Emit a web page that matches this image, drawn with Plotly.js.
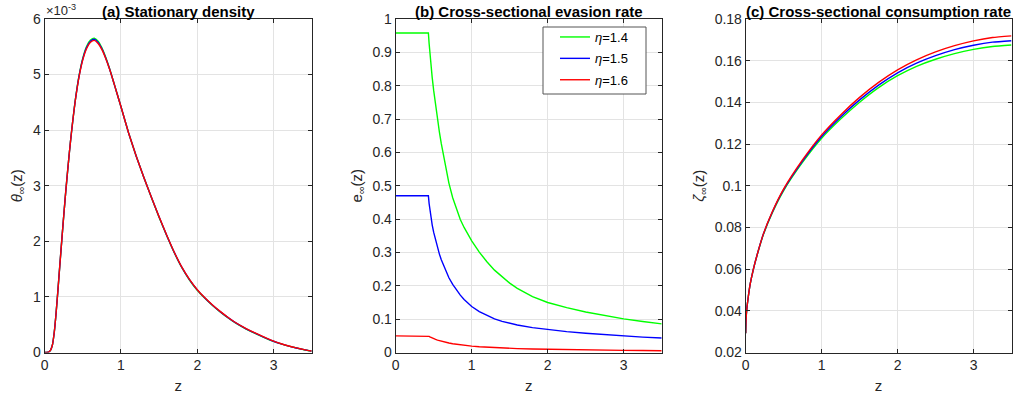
<!DOCTYPE html>
<html>
<head>
<meta charset="utf-8">
<script src="https://cdn.plot.ly/plotly-3.0.1.min.js"></script>
<style>html,body{margin:0;padding:0;background:#fff;}#chart{width:1015px;height:400px;}</style>
</head>
<body>
<div id="chart"></div>
<script>
// ---------- data ----------
const seriesNames = ['<i>η</i>=1.4', '<i>η</i>=1.5', '<i>η</i>=1.6'];
const seriesColors = ['#00ff00', '#0000ff', '#ff0000'];

// (a) stationary density, values in units of 1e-3
const zA = [0, 0.025, 0.05, 0.075, 0.1, 0.125, 0.15, 0.175, 0.2, 0.225, 0.25, 0.275, 0.3, 0.325, 0.35, 0.375, 0.4, 0.45, 0.5, 0.55, 0.6, 0.65, 0.7, 0.75, 0.8, 0.85, 0.9, 0.95, 1.0, 1.1, 1.2, 1.3, 1.4, 1.5, 1.6, 1.7, 1.8, 1.9, 2.0, 2.1, 2.2, 2.3, 2.4, 2.5, 2.6, 2.7, 2.8, 2.9, 3.0, 3.1, 3.2, 3.3, 3.4, 3.5];
const thetaR = [0, 0, 0.005, 0.04, 0.13, 0.36, 0.72, 1.15, 1.60, 2.04, 2.47, 2.88, 3.26, 3.62, 3.95, 4.25, 4.52, 4.96, 5.27, 5.47, 5.58, 5.615, 5.56, 5.45, 5.29, 5.10, 4.88, 4.65, 4.42, 3.95, 3.53, 3.15, 2.79, 2.44, 2.11, 1.80, 1.53, 1.31, 1.13, 0.985, 0.855, 0.74, 0.635, 0.54, 0.46, 0.39, 0.325, 0.262, 0.205, 0.158, 0.117, 0.082, 0.052, 0.026];
const thetaB = [0, 0, 0.005, 0.04, 0.13, 0.36, 0.72, 1.15, 1.60, 2.04, 2.47, 2.88, 3.26, 3.62, 3.95, 4.25, 4.525, 4.97, 5.285, 5.49, 5.60, 5.635, 5.58, 5.465, 5.30, 5.105, 4.88, 4.65, 4.42, 3.95, 3.53, 3.15, 2.79, 2.436, 2.106, 1.796, 1.526, 1.306, 1.126, 0.981, 0.851, 0.736, 0.631, 0.536, 0.456, 0.386, 0.321, 0.259, 0.202, 0.156, 0.116, 0.081, 0.051, 0.025];
const thetaG = [0, 0, 0.005, 0.04, 0.13, 0.36, 0.72, 1.15, 1.60, 2.04, 2.47, 2.88, 3.26, 3.62, 3.95, 4.25, 4.53, 4.98, 5.30, 5.51, 5.62, 5.655, 5.60, 5.48, 5.31, 5.11, 4.88, 4.65, 4.42, 3.95, 3.53, 3.15, 2.785, 2.43, 2.10, 1.79, 1.52, 1.30, 1.12, 0.975, 0.845, 0.73, 0.626, 0.532, 0.452, 0.382, 0.317, 0.256, 0.2, 0.154, 0.114, 0.08, 0.05, 0.024];

// (b) cross-sectional evasion rate
const zB = [0, 0.43, 0.44, 0.45, 0.46, 0.47, 0.48, 0.5, 0.525, 0.55, 0.575, 0.6, 0.65, 0.7, 0.75, 0.8, 0.85, 0.9, 0.95, 1.0, 1.1, 1.2, 1.3, 1.4, 1.5, 1.6, 1.8, 2.0, 2.25, 2.5, 2.75, 3.0, 3.25, 3.5];
const evaG = [0.958, 0.958, 0.926, 0.897, 0.871, 0.847, 0.825, 0.785, 0.740, 0.699, 0.661, 0.626, 0.562, 0.508, 0.464, 0.428, 0.399, 0.375, 0.354, 0.335, 0.301, 0.272, 0.247, 0.226, 0.208, 0.1925, 0.1675, 0.150, 0.1345, 0.1215, 0.1105, 0.101, 0.093, 0.0858];
const evaB = [0.47, 0.47, 0.446, 0.427, 0.41, 0.396, 0.383, 0.36, 0.335, 0.314, 0.295, 0.278, 0.248, 0.224, 0.204, 0.187, 0.172, 0.159, 0.148, 0.138, 0.1225, 0.1105, 0.101, 0.0935, 0.0875, 0.0825, 0.0745, 0.0685, 0.0625, 0.0575, 0.0532, 0.0495, 0.0462, 0.0433];
const evaR = [0.05, 0.05, 0.0485, 0.0471, 0.0458, 0.0446, 0.0435, 0.0415, 0.0393, 0.0373, 0.0355, 0.0338, 0.0309, 0.0285, 0.0264, 0.0246, 0.023, 0.0216, 0.0203, 0.0192, 0.0173, 0.0157, 0.0144, 0.0133, 0.0124, 0.0116, 0.0103, 0.0093, 0.0083, 0.0075, 0.0068, 0.0063, 0.0058, 0.0054];

// (c) cross-sectional consumption rate
const zC = [0, 0.005, 0.015, 0.035, 0.06, 0.1, 0.15, 0.232, 0.35, 0.5, 0.75, 1.0, 1.25, 1.5, 1.75, 2.0, 2.25, 2.5, 2.75, 3.0, 3.25, 3.5];
const consR = [0.0292, 0.036, 0.041, 0.047, 0.053, 0.0598, 0.0668, 0.0768, 0.0875, 0.0985, 0.1125, 0.1244, 0.1340, 0.1424, 0.1496, 0.1556, 0.1604, 0.1642, 0.1672, 0.1695, 0.1711, 0.1719];
const consB = [0.0292, 0.036, 0.041, 0.047, 0.053, 0.0598, 0.0668, 0.0767, 0.0873, 0.0981, 0.1119, 0.1236, 0.1330, 0.1412, 0.1483, 0.1542, 0.1588, 0.1624, 0.1653, 0.1674, 0.1689, 0.1696];
const consG = [0.0292, 0.036, 0.041, 0.047, 0.053, 0.0598, 0.0667, 0.0765, 0.0870, 0.0977, 0.1113, 0.1228, 0.1320, 0.1401, 0.1471, 0.1528, 0.1573, 0.1607, 0.1634, 0.1654, 0.1668, 0.1675];

const xTicks = [0, 1, 2, 3];
const yTicksA = [0, 1, 2, 3, 4, 5, 6];
const yTicksB = [0, 0.1, 0.2, 0.3, 0.4, 0.5, 0.6, 0.7, 0.8, 0.9, 1];
const yTickTextB = ['0', '0.1', '0.2', '0.3', '0.4', '0.5', '0.6', '0.7', '0.8', '0.9', '1'];
const yTicksC = [0.02, 0.04, 0.06, 0.08, 0.1, 0.12, 0.14, 0.16, 0.18];
const yTickTextC = ['0.02', '0.04', '0.06', '0.08', '0.1', '0.12', '0.14', '0.16', '0.18'];
const titles = ['(a) Stationary density', '(b) Cross-sectional evasion rate', '(c) Cross-sectional consumption rate'];
const yTitles = ['<i>θ</i><sub>∞</sub>(z)', 'e<sub>∞</sub>(z)', '<i>ζ</i><sub>∞</sub>(z)'];

// ---------- layout helpers ----------
const W = 1015, H = 400;
const px = v => v / W;
const py = v => 1 - v / H;
const panels = [[44.7, 311.7], [395.7, 661.7], [745.7, 1011.5]];
const plotTop = 19, plotBot = 352.5;
const FONT = 'Liberation Sans, Arial, Helvetica, sans-serif';
const axColor = '#262626';
const gridColor = '#e3e3e3';

function xaxis(i) {
  return {
    domain: [px(panels[i][0]), px(panels[i][1])],
    anchor: 'y' + (i ? i + 1 : ''),
    range: [0, 3.5], tickvals: xTicks, ticks: 'inside', ticklen: 4, tickcolor: axColor,
    showline: true, linecolor: axColor, linewidth: 1, mirror: 'ticks',
    showgrid: true, gridcolor: gridColor, gridwidth: 1, zeroline: false,
    tickfont: {family: FONT, size: 14, color: axColor},
    title: {text: 'z', font: {family: FONT, size: 15, color: axColor}, standoff: 8},
    fixedrange: true
  };
}
function yaxis(i, range, vals, text) {
  const a = {
    domain: [py(plotBot), py(plotTop)],
    anchor: 'x' + (i ? i + 1 : ''),
    range: range, tickvals: vals, ticks: 'inside', ticklen: 4, tickcolor: axColor,
    showline: true, linecolor: axColor, linewidth: 1, mirror: 'ticks',
    showgrid: true, gridcolor: gridColor, gridwidth: 1, zeroline: false,
    tickfont: {family: FONT, size: 14, color: axColor},
    title: {text: yTitles[i], font: {family: FONT, size: 15, color: axColor}, standoff: 6},
    fixedrange: true
  };
  if (text) a.ticktext = text;
  return a;
}

const data = [];
const sets = [[zA, [thetaG, thetaB, thetaR]], [zB, [evaG, evaB, evaR]], [zC, [consG, consB, consR]]];
sets.forEach((s, i) => {
  s[1].forEach((ys, k) => {
    data.push({
      x: s[0], y: ys, type: 'scatter', mode: 'lines',
      name: seriesNames[k], legendgroup: 'g' + k,
      line: {color: seriesColors[k], width: 1.4, shape: i === 1 ? 'linear' : 'spline', smoothing: 0.5},
      xaxis: 'x' + (i ? i + 1 : ''), yaxis: 'y' + (i ? i + 1 : ''),
      showlegend: i === 1,
      hoverinfo: 'skip'
    });
  });
});

const annotations = titles.map((t, i) => ({
  text: '<b>' + t + '</b>', xref: 'paper', yref: 'paper',
  x: px((panels[i][0] + panels[i][1]) / 2), y: py(1), xanchor: 'center', yanchor: 'top',
  showarrow: false, font: {family: FONT, size: 15, color: '#000'}
}));
annotations.push({
  text: '×10<sup>-3</sup>', xref: 'paper', yref: 'paper',
  x: px(44), y: py(0), xanchor: 'left', yanchor: 'top',
  showarrow: false, font: {family: FONT, size: 13, color: axColor}
});

// legend frame (white box with border, covering the grid)
const shapes = [{
  type: 'rect', xref: 'paper', yref: 'paper', layer: 'above',
  x0: px(543), x1: px(646), y0: py(94), y1: py(27),
  fillcolor: '#ffffff', line: {color: '#555555', width: 1}
}];

const layout = {
  width: W, height: H,
  margin: {l: 0, r: 0, t: 0, b: 0},
  paper_bgcolor: '#fff', plot_bgcolor: '#fff',
  showlegend: true,
  legend: {
    x: px(555), y: py(22), xanchor: 'left', yanchor: 'top',
    bgcolor: 'rgba(0,0,0,0)', borderwidth: 0,
    font: {family: FONT, size: 13, color: '#000'},
    tracegroupgap: 1.5
  },
  xaxis: xaxis(0), xaxis2: xaxis(1), xaxis3: xaxis(2),
  yaxis: yaxis(0, [0, 6], yTicksA),
  yaxis2: yaxis(1, [0, 1], yTicksB, yTickTextB),
  yaxis3: yaxis(2, [0.02, 0.18], yTicksC, yTickTextC),
  shapes: shapes,
  annotations: annotations
};

Plotly.newPlot('chart', data, layout, {staticPlot: true, displayModeBar: false});
</script>
</body>
</html>
